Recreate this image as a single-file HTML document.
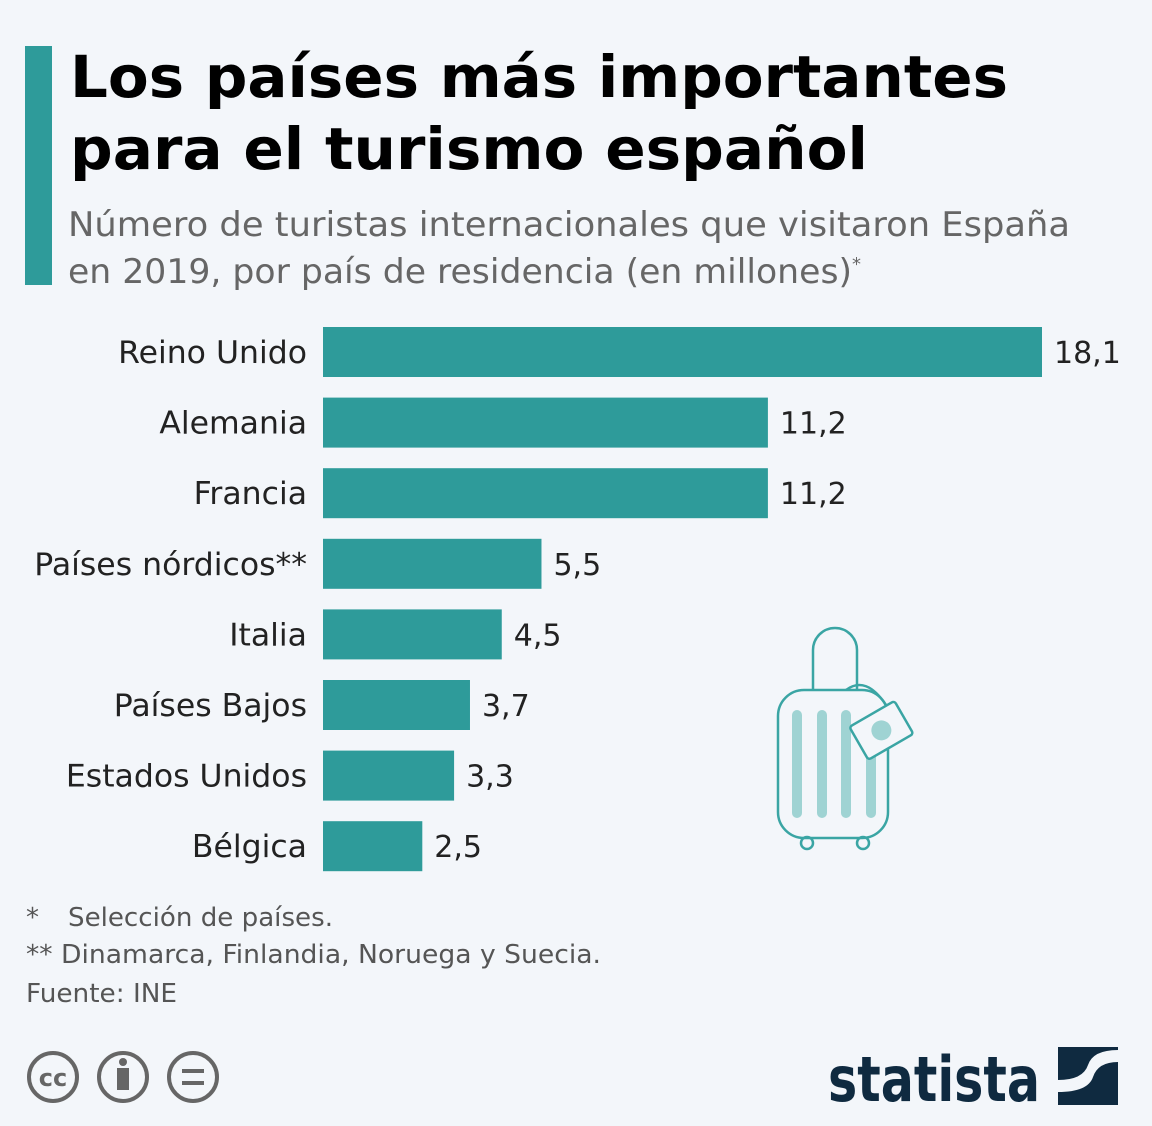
<!DOCTYPE html>
<html><head><meta charset="utf-8"><style>
html,body{margin:0;padding:0;background:#f3f6fa;}
svg{display:block;font-family:"DejaVu Sans","Liberation Sans",sans-serif;}
</style></head><body>
<svg width="1152" height="1126" viewBox="0 0 1152 1126">
<rect x="0" y="0" width="1152" height="1126" fill="#f3f6fa"/>
<rect x="25" y="46" width="27" height="239" fill="#2e9b9a"/>
<text x="70" y="97" font-size="58" font-weight="bold" fill="#000" textLength="938" lengthAdjust="spacingAndGlyphs">Los países más importantes</text>
<text x="70" y="169" font-size="58" font-weight="bold" fill="#000" textLength="798" lengthAdjust="spacingAndGlyphs">para el turismo español</text>
<text x="68" y="236" font-size="34" fill="#666" textLength="1002" lengthAdjust="spacingAndGlyphs">Número de turistas internacionales que visitaron España</text>
<text x="68" y="283" font-size="34" fill="#666" textLength="784" lengthAdjust="spacingAndGlyphs">en 2019, por país de residencia (en millones)</text>
<text x="852" y="270" font-size="18" fill="#666">*</text>
<g id="bars"></g>
<g fill="none" stroke="#3aa5a4" stroke-width="2.5">
<path d="M813 690 V650 a22 22 0 0 1 44 0 V690"/>
<rect x="778" y="690" width="110" height="148" rx="26"/>
<circle cx="807" cy="843" r="6"/><circle cx="863" cy="843" r="6"/>
<g stroke="none" fill="#9fd3d3">
<rect x="792" y="710" width="10" height="108" rx="5"/><rect x="817" y="710" width="10" height="108" rx="5"/><rect x="841" y="710" width="10" height="108" rx="5"/><rect x="866" y="730" width="10" height="88" rx="5"/>
</g>
<path d="M846 690 q20 -15 40 15" />
<g transform="rotate(-30 880 730)"><rect x="855" y="712" width="52" height="38" rx="3" fill="#f3f6fa"/><circle cx="881" cy="731" r="10" fill="#9fd3d3" stroke="none"/></g>
</g>
<g fill="#555" font-size="26">
<text x="26" y="926">*</text>
<text x="68" y="926" textLength="265" lengthAdjust="spacingAndGlyphs">Selección de países.</text>
<text x="26" y="963" textLength="575" lengthAdjust="spacingAndGlyphs">** Dinamarca, Finlandia, Noruega y Suecia.</text>
<text x="26" y="1002" textLength="151" lengthAdjust="spacingAndGlyphs">Fuente: INE</text>
</g>
<g stroke="#666" stroke-width="4" fill="none">
<circle cx="53" cy="1077" r="24"/><text x="53" y="1086" font-size="24" font-weight="bold" fill="#666" stroke="none" text-anchor="middle">cc</text>
<circle cx="123" cy="1077" r="24"/><circle cx="123" cy="1062" r="4" fill="#666" stroke="none"/><rect x="117" y="1068" width="12" height="22" fill="#666" stroke="none"/>
<circle cx="193" cy="1077" r="24"/><line x1="182" y1="1071" x2="204" y2="1071"/><line x1="182" y1="1083" x2="204" y2="1083"/>
</g>
<text x="828" y="1101" font-size="62" font-weight="bold" fill="#0f2a40" textLength="212" lengthAdjust="spacingAndGlyphs">statista</text>
<g><rect x="1058" y="1047" width="60" height="58" fill="#0f2a40"/><path d="M1058 1080 q25 0 30 -15 q5 -15 30 -15 v12 q-20 0 -25 15 q-5 15 -35 15z" fill="#f3f6fa"/></g>
<script>
const categories=["Reino Unido","Alemania","Francia","Países nórdicos**","Italia","Países Bajos","Estados Unidos","Bélgica"];
const values=[18.1,11.2,11.2,5.5,4.5,3.7,3.3,2.5];
const valueLabels=["18,1","11,2","11,2","5,5","4,5","3,7","3,3","2,5"];
const x0=323,unit=(1042-323)/18.1;
function xs(v){return x0+v*unit;}
function ys(i){return 352+i*70.6;}
const g=document.getElementById('bars'),ns="http://www.w3.org/2000/svg";
categories.forEach((c,i)=>{
 const r=document.createElementNS(ns,'rect');
 r.setAttribute('x',x0);r.setAttribute('y',ys(i)-25);r.setAttribute('width',xs(values[i])-x0);r.setAttribute('height',50);r.setAttribute('fill','#2e9b9a');
 
 
 g.appendChild(r);
 const l=document.createElementNS(ns,'text');
 l.setAttribute('x',307);l.setAttribute('y',ys(i)+11);l.setAttribute('text-anchor','end');l.setAttribute('font-size','31.5');l.setAttribute('fill','#222');
 l.textContent=c;
 
 
 g.appendChild(l);
 const v=document.createElementNS(ns,'text');
 v.setAttribute('x',xs(values[i])+12);v.setAttribute('y',ys(i)+11);v.setAttribute('font-size','30');v.setAttribute('fill','#222');
 v.textContent=valueLabels[i];
 
 
 g.appendChild(v);
});
</script>
</svg>
</body></html>
